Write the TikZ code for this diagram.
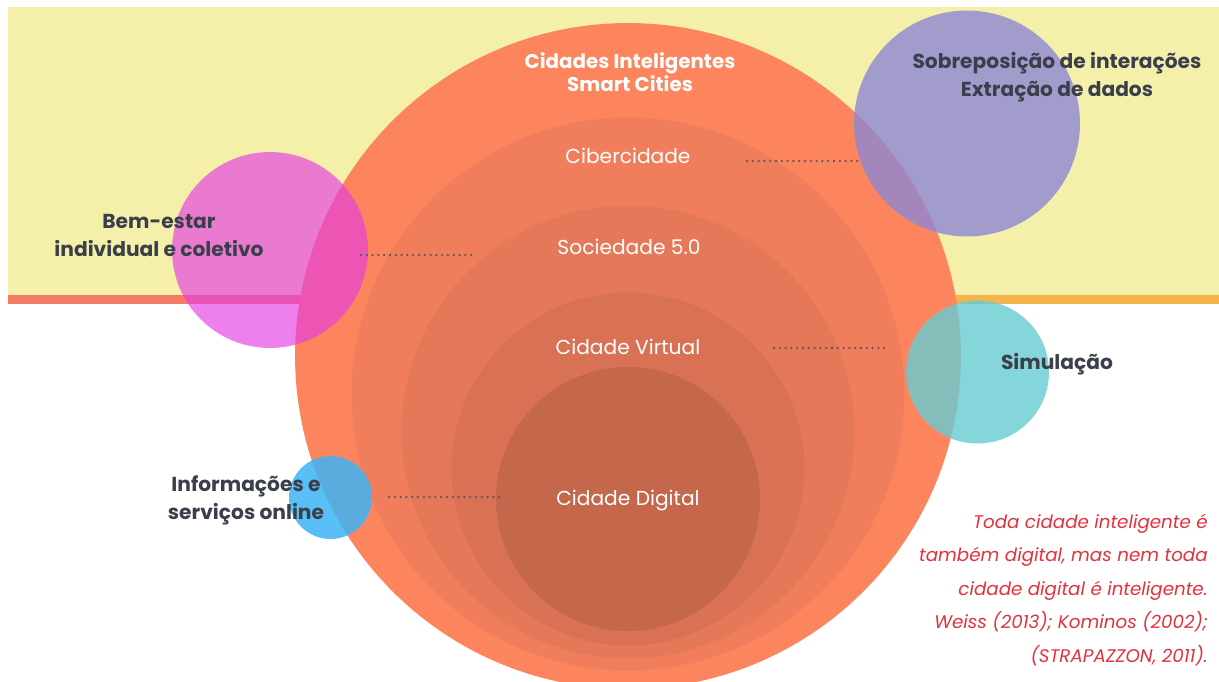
\documentclass[tikz,border=0pt]{standalone}
\usepackage{fontspec}
\setmainfont{Poppins}
\definecolor{bandyellow}{HTML}{F5F0A9}
\definecolor{linesalmon}{HTML}{F47C62}
\definecolor{linegold}{HTML}{F4B44B}
\definecolor{cone}{HTML}{FC855E}
\definecolor{ctwo}{HTML}{F07E5C}
\definecolor{cthree}{HTML}{E57858}
\definecolor{cfour}{HTML}{D97155}
\definecolor{cfive}{HTML}{C4674B}
\definecolor{magentab}{RGB}{229,60,229}
\definecolor{purpleb}{RGB}{141,136,212}
\definecolor{cyanb}{RGB}{102,204,209}
\definecolor{blueb}{RGB}{62,180,246}
\definecolor{darktext}{HTML}{3B3F4C}
\definecolor{redtext}{HTML}{E2323C}
\definecolor{dotgray}{HTML}{5E5955}
\begin{document}
\begin{tikzpicture}[x=0.02cm,y=-0.02cm,
  disc/.style={circle,inner sep=0pt,outer sep=0pt,draw=none},
  layerlabel/.style={text=white,font=\fontsize{11.5pt}{13pt}\selectfont,inner sep=0pt},
  titlelabel/.style={text=white,font=\fontsize{11.3pt}{13pt}\selectfont\bfseries,align=center,inner sep=0pt},
  sidelabel/.style={text=darktext,font=\fontsize{11.5pt}{15.9pt}\selectfont\bfseries,align=center,inner sep=0pt},
  quote/.style={text=redtext,font=\fontsize{10.4pt}{19.1pt}\selectfont\itshape,align=right,inner sep=0pt,anchor=north east},
  dotline/.style={draw=dotgray,line width=1.45pt,line cap=round,dash pattern=on 0pt off 3.3pt}
]
\useasboundingbox (0,0) rectangle (1219,682);
\fill[white] (0,0) rectangle (1219,682);
\fill[bandyellow] (8,7) rectangle (1219,295);
\fill[linesalmon] (8,295) rectangle (628,304);
\fill[linegold] (628,295) rectangle (1219,304);

\begin{scope}
\clip (0,0) rectangle (1219,682);
\node[disc,fill=cone,minimum size=13.32cm] (cSmart) at (628,356) {};
\node[disc,fill=ctwo,minimum size=11.06cm] (cCiber) at (628,394) {};
\node[disc,fill=cthree,minimum size=9.06cm] (cSoc) at (628,432) {};
\node[disc,fill=cfour,minimum size=7.06cm] (cVirt) at (628,469) {};
\node[disc,fill=cfive,minimum size=5.28cm] (cDig) at (628,499) {};
\end{scope}

\node[disc,fill=magentab,fill opacity=0.65,minimum size=3.92cm] (bBem) at (270,250) {};
\node[disc,fill=purpleb,fill opacity=0.8,minimum size=4.52cm] (bSob) at (967,123.5) {};
\node[disc,fill=cyanb,fill opacity=0.8,minimum size=2.86cm] (bSim) at (977.5,372) {};
\node[disc,fill=blueb,fill opacity=0.85,minimum size=1.66cm] (bInfo) at (330.5,497.5) {};

\node[titlelabel] (tSmart) at (630,72) {Cidades Inteligentes\\Smart Cities};
\node[layerlabel] (tCiber) at (628,156) {Cibercidade};
\node[layerlabel] (tSoc) at (629,247) {Sociedade 5.0};
\node[layerlabel] (tVirt) at (628,347) {Cidade Virtual};
\node[layerlabel] (tDig) at (628,501) {Cidade Digital};

\node[sidelabel] (lBem) at (159,235.5) {Bem-estar\\individual e coletivo};
\node[sidelabel] (lSob) at (1057,77) {Sobreposição de interações\\Extração de dados};
\node[sidelabel] (lSim) at (1057,364) {Simulação};
\node[sidelabel] (lInfo) at (246,500) {Informações e\\serviços online};

\node[quote] (qText) at (1208,513.5) {Toda cidade inteligente é\\também digital, mas nem toda\\cidade digital é inteligente.\\Weiss (2013); Kominos (2002);\\(STRAPAZZON, 2011).};

\coordinate (dCa) at (747,161);
\coordinate (dCb) at (862,161);
\coordinate (dSa) at (361,255);
\coordinate (dSb) at (476,255);
\coordinate (dVa) at (774,348);
\coordinate (dVb) at (889,348);
\coordinate (dDa) at (389,497);
\coordinate (dDb) at (504,497);
\draw[dotline] (dCa) -- (dCb);
\draw[dotline] (dSa) -- (dSb);
\draw[dotline] (dVa) -- (dVb);
\draw[dotline] (dDa) -- (dDb);
\end{tikzpicture}
\end{document}
